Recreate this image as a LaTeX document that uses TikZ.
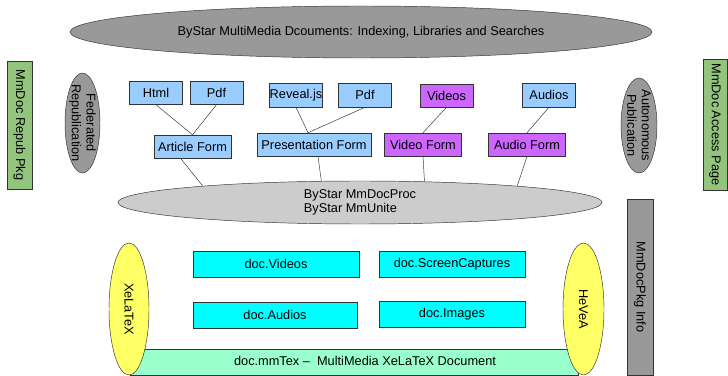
\documentclass[tikz,border=0pt]{standalone}
\usepackage{fontspec}
\setmainfont{Liberation Sans}
\usetikzlibrary{shapes.geometric}
\definecolor{formblue}{HTML}{99CCFF}
\definecolor{formpurple}{HTML}{CC66FF}
\definecolor{pkggreen}{HTML}{93C47D}
\definecolor{texgreen}{HTML}{99FFCC}
\definecolor{engyellow}{HTML}{FFFF66}
\definecolor{doccyan}{HTML}{00FFFF}
\definecolor{darkgray}{HTML}{999999}
\definecolor{litegray}{HTML}{CCCCCC}
\tikzset{
  box/.style={draw=black!80, inner sep=0pt, minimum height=0.69cm,
    font=\fontsize{10.9}{12.5}\selectfont},
  small/.style={box, minimum width=1.6cm},
  form/.style={box, minimum width=2.3cm},
  docbox/.style={box, fill=doccyan, minimum height=0.78cm},
  ell/.style={ellipse, draw=black!80, inner sep=0pt,
    font=\fontsize{10.9}{12.5}\selectfont},
  sidebox/.style={draw=black!80, inner sep=0pt, rotate=-90,
    font=\fontsize{10.9}{12.5}\selectfont},
  tilted/.style={rotate=-90, align=center,
    font=\fontsize{10.9}{12.5}\selectfont}
}
\begin{document}
\begin{tikzpicture}[x=0.03cm, y=-0.03cm]
  \useasboundingbox (0,0) rectangle (728,376);
  % top and middle ellipses
  \node[ell, fill=darkgray, minimum width=17.46cm, minimum height=1.56cm]
    (search) at (361,32) {ByStar MultiMedia Dcouments: Indexing, Libraries and Searches};
  \node[ell, fill=litegray, minimum width=14.52cm, minimum height=1.29cm, align=left]
    (proc) at (360,202.5) {ByStar MmDocProc\\ByStar MmUnite};
  % side packages
  \node[sidebox, fill=pkggreen, minimum width=3.84cm, minimum height=0.75cm]
    (repub) at (19.5,125) {MmDoc Repub Pkg};
  \node[sidebox, fill=pkggreen, minimum width=3.93cm, minimum height=0.72cm]
    (access) at (715,124.5) {MmDoc Access Page};
  \node[sidebox, fill=darkgray, minimum width=5.28cm, minimum height=0.78cm]
    (pkginfo) at (640,287) {MmDocPkg Info};
  \node[ell, fill=darkgray, minimum width=1.05cm, minimum height=3cm]
    (fedrep) at (82.5,123) {};
  \node[tilted] (fedreptext) at (fedrep) {Federated\\Republication};
  \node[ell, fill=darkgray, minimum width=1.08cm, minimum height=2.85cm]
    (autopub) at (639,125.5) {};
  \node[tilted] (autopubtext) at (autopub) {Autonomous\\Publication};
  % outputs
  \node[small, fill=formblue] (html) at (156,93) {Html};
  \node[small, fill=formblue] (pdfa) at (216.5,93) {Pdf};
  \node[small, fill=formblue, minimum height=0.72cm] (reveal) at (296,95) {Reveal.js};
  \node[small, fill=formblue, minimum height=0.72cm] (pdfb) at (365,95) {Pdf};
  \node[small, fill=formpurple] (videos) at (446.5,95.5) {Videos};
  \node[small, fill=formblue, minimum height=0.72cm] (audios) at (549,95) {Audios};
  \node[form, fill=formblue] (artform) at (192.5,146.5) {Article Form};
  \node[form, fill=formblue, minimum width=3.42cm] (presform) at (314,144.5) {Presentation Form};
  \node[form, fill=formpurple] (vidform) at (423,144.5) {Video Form};
  \node[form, fill=formpurple] (audform) at (527,144.5) {Audio Form};
  \begin{scope}[-, draw=black!80]
    \draw (html.south) -- (artform.north);
    \draw (pdfa.south) -- (artform.north);
    \draw (reveal.south) -- ([xshift=-0.18cm]presform.north);
    \draw (pdfb.south) -- ([xshift=-0.18cm]presform.north);
    \draw (videos.south) -- (vidform.north);
    \draw (audios.south) -- (audform.north);
    \draw ([xshift=-0.36cm]artform.south) -- (proc.174.05);
    \draw ([xshift=0.12cm]presform.south) -- (proc.151.5);
    \draw (vidform.south) -- (proc.18.2);
    \draw (audform.south) -- (proc.6.4);
  \end{scope}
  % sources
  \node[box, fill=texgreen, minimum width=13.44cm, minimum height=0.78cm]
    (mmtex) at (354,362) {};
  \node[font=\fontsize{10.9}{12.5}\selectfont] (mmtextext) at (365,361)
    {doc.mmTex --\ \ MultiMedia XeLaTeX Document};
  \node[ell, fill=engyellow, minimum width=1.2cm, minimum height=3.96cm]
    (xelatex) at (129,309) {};
  \node[tilted] (xelatextext) at (xelatex) {XeLaTeX};
  \node[ell, fill=engyellow, minimum width=1.23cm, minimum height=3.96cm]
    (hevea) at (583.5,309) {};
  \node[tilted] (heveatext) at (hevea) {HeVeA};
  \node[docbox, minimum width=4.98cm] (docvid) at (276,264) {doc.Videos};
  \node[docbox, minimum width=4.38cm] (doccap) at (452,264) {doc.ScreenCaptures};
  \node[docbox, minimum width=4.92cm] (docaud) at (275,315) {doc.Audios};
  \node[docbox, minimum width=4.38cm] (docimg) at (452,314) {doc.Images};
\end{tikzpicture}
\end{document}
